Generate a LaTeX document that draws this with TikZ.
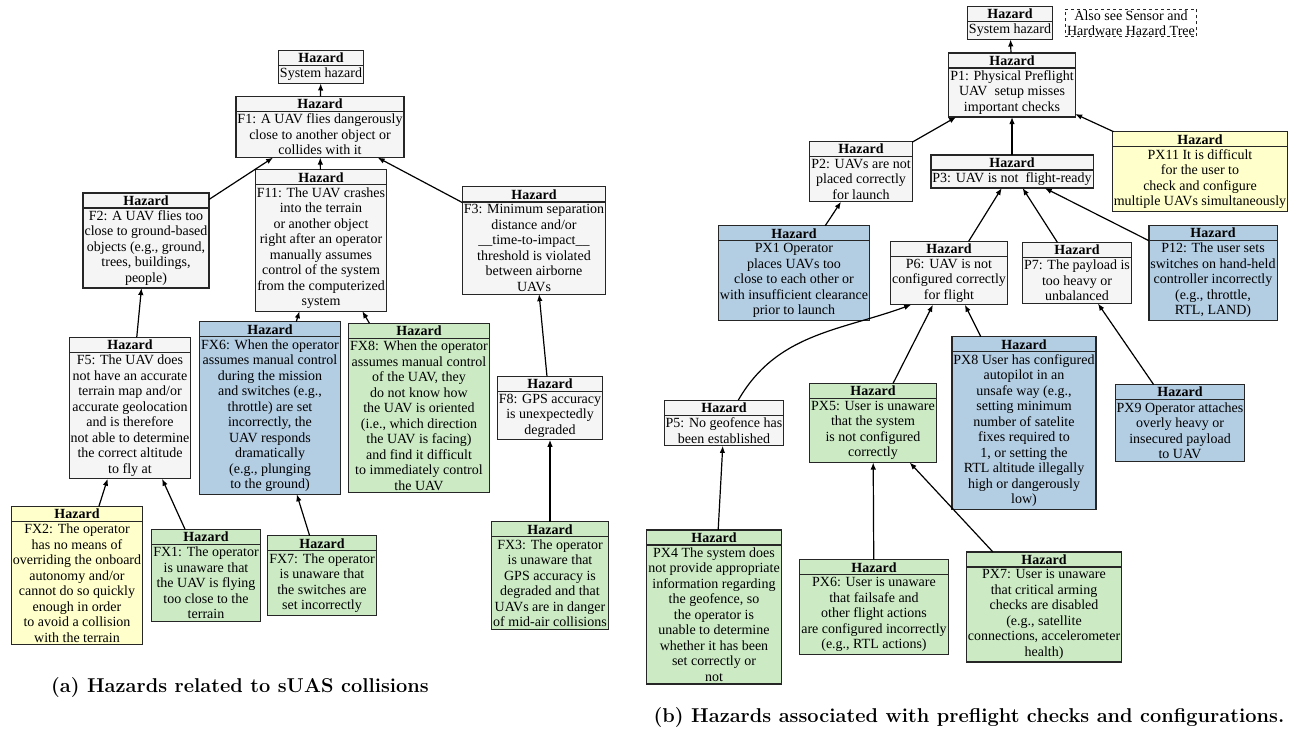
\documentclass[tikz,border=0pt]{standalone}
\usepackage{fontspec}
\newfontfamily\boxfont{Liberation Serif}
\usetikzlibrary{shapes.multipart,arrows.meta}
\definecolor{hzgray}{HTML}{F5F5F5}
\definecolor{hzblue}{HTML}{B3CDE3}
\definecolor{hzgreen}{HTML}{CCEBC5}
\definecolor{hzyellow}{HTML}{FFFFCC}

\begin{document}
\begin{tikzpicture}[x=1pt,y=-1pt,outer sep=0pt,very thick,>={Latex[length=7pt,width=5.5pt]},
hazard/.style={rectangle split,rectangle split parts=2,draw=black!85,inner xsep=1.5pt,inner ysep=2pt,align=center,font=\boxfont\fontsize{14}{15.5}\selectfont},
hazgray/.style={hazard,fill=hzgray},
hazblue/.style={hazard,fill=hzblue},
hazgreen/.style={hazard,fill=hzgreen},
hazyellow/.style={hazard,fill=hzyellow},
caption/.style={font=\bfseries\fontsize{20}{23}\selectfont}]

\useasboundingbox (0,0) rectangle (1294,734);

\draw (321,67) node[hazgray] (sysa) {\textbf{Hazard}\nodepart{two}System hazard};
\draw (320,127) node[hazgray] (f1) {\textbf{Hazard}\nodepart{two}F1: A UAV flies dangerously\\close to another object or\\collides with it};
\draw (146,240.5) node[hazgray] (f2) {\textbf{Hazard}\nodepart{two}F2: A UAV flies too\\close to ground-based\\objects (e.g., ground,\\trees, buildings,\\people)};
\draw (321,240.5) node[hazgray] (f11) {\textbf{Hazard}\nodepart{two}F11: The UAV crashes\\into the terrain\\or another object\\right after an operator\\manually assumes\\control of the system\\from the computerized\\system};
\draw (534,240.5) node[hazgray] (f3) {\textbf{Hazard}\nodepart{two}F3: Minimum separation\\distance and/or\\\_\_time-to-impact\_\_\\threshold is violated\\between airborne\\UAVs};
\draw (130,408) node[hazgray] (f5) {\textbf{Hazard}\nodepart{two}F5: The UAV does\\not have an accurate\\terrain map and/or\\accurate geolocation\\and is therefore\\not able to determine\\the correct altitude\\to fly at};
\draw (270,408) node[hazblue] (fx6) {\textbf{Hazard}\nodepart{two}FX6: When the operator\\assumes manual control\\during the mission\\and switches (e.g.,\\throttle) are set\\incorrectly, the\\UAV responds\\dramatically\\(e.g., plunging\\to the ground)};
\draw (419,408) node[hazgreen] (fx8) {\textbf{Hazard}\nodepart{two}FX8: When the operator\\assumes manual control\\of the UAV, they\\do not know how\\the UAV is oriented\\(i.e., which direction\\the UAV is facing)\\and find it difficult\\to immediately control\\the UAV};
\draw (550,408) node[hazgray] (f8) {\textbf{Hazard}\nodepart{two}F8: GPS accuracy\\is unexpectedly\\degraded};
\draw (77,575.5) node[hazyellow] (fx2) {\textbf{Hazard}\nodepart{two}FX2: The operator\\has no means of\\overriding the onboard\\autonomy and/or\\cannot do so quickly\\enough in order\\to avoid a collision\\with the terrain};
\draw (206,575.5) node[hazgreen] (fx1) {\textbf{Hazard}\nodepart{two}FX1: The operator\\is unaware that\\the UAV is flying\\too close to the\\terrain};
\draw (322,575.5) node[hazgreen] (fx7) {\textbf{Hazard}\nodepart{two}FX7: The operator\\is unaware that\\the switches are\\set incorrectly};
\draw (550,575.5) node[hazgreen] (fx3) {\textbf{Hazard}\nodepart{two}FX3: The operator\\is unaware that\\GPS accuracy is\\degraded and that\\UAVs are in danger\\of mid-air collisions};

\draw[->] (f1) -- (sysa);
\draw[->] (f2) -- (f1);
\draw[->] (f11) -- (f1);
\draw[->] (f3) -- (f1);
\draw[->] (f5) -- (f2);
\draw[->] (fx6) -- (f11);
\draw[->] (fx8) -- (f11);
\draw[->] (f8) -- (f3);
\draw[->] (fx2) -- (f5);
\draw[->] (fx1) -- (f5);
\draw[->] (fx7) -- (fx6);
\draw[->] (fx3) -- (f8);

\draw (1010,23) node[hazgray] (sysb) {\textbf{Hazard}\nodepart{two}System hazard};
\draw (1131,23) node[draw=black!85,dashed,inner xsep=2pt,inner ysep=1pt,align=center,font=\boxfont\fontsize{14}{15.5}\selectfont] (seealso) {Also see Sensor and\\Hardware Hazard Tree};
\draw (1012,85) node[hazgray] (p1) {\textbf{Hazard}\nodepart{two}P1: Physical Preflight\\UAV~~setup misses\\important checks};
\draw (861,171.5) node[hazgray] (p2) {\textbf{Hazard}\nodepart{two}P2: UAVs are not\\placed correctly\\for launch};
\draw (1012,171.5) node[hazgray] (p3) {\textbf{Hazard}\nodepart{two}P3: UAV is not~~flight-ready};
\draw (1200,171.5) node[hazyellow] (px11) {\textbf{Hazard}\nodepart{two}PX11 It is difficult\\for the user to\\check and configure\\multiple UAVs simultaneously};
\draw (794,273) node[hazblue] (px1) {\textbf{Hazard}\nodepart{two}PX1 Operator\\places UAVs too\\close to each other or\\with insufficient clearance\\prior to launch};
\draw (949,273) node[hazgray] (p6) {\textbf{Hazard}\nodepart{two}P6: UAV is not\\configured correctly\\for flight};
\draw (1077,273) node[hazgray] (p7) {\textbf{Hazard}\nodepart{two}P7: The payload is\\too heavy or\\unbalanced};
\draw (1213,273) node[hazblue] (p12) {\textbf{Hazard}\nodepart{two}P12: The user sets\\switches on hand-held\\controller incorrectly\\(e.g., throttle,\\RTL, LAND)};
\draw (724,423) node[hazgray] (p5) {\textbf{Hazard}\nodepart{two}P5: No geofence has\\been established};
\draw (873,423) node[hazgreen] (px5) {\textbf{Hazard}\nodepart{two}PX5: User is unaware\\that the system\\is not configured\\correctly};
\draw (1024,423) node[hazblue] (px8) {\textbf{Hazard}\nodepart{two}PX8 User has configured\\autopilot in an\\unsafe way (e.g.,\\setting minimum\\number of satelite\\fixes required to\\1, or setting the\\RTL altitude illegally\\high or dangerously\\low)};
\draw (1180,423) node[hazblue] (px9) {\textbf{Hazard}\nodepart{two}PX9 Operator attaches\\overly heavy or\\insecured payload\\to UAV};
\draw (714,607) node[hazgreen] (px4) {\textbf{Hazard}\nodepart{two}PX4 The system does\\not provide appropriate\\information regarding\\the geofence, so\\the operator is\\unable to determine\\whether it has been\\set correctly or\\not};
\draw (874,607) node[hazgreen] (px6) {\textbf{Hazard}\nodepart{two}PX6: User is unaware\\that failsafe and\\other flight actions\\are configured incorrectly\\(e.g., RTL actions)};
\draw (1044,607) node[hazgreen] (px7) {\textbf{Hazard}\nodepart{two}PX7: User is unaware\\that critical arming\\checks are disabled\\(e.g., satellite\\connections, accelerometer\\health)};

\draw[->] (p1) -- (sysb);
\draw[->] (p2) -- (p1);
\draw[->] (p3) -- (p1);
\draw[->] (px11) -- (p1);
\draw[->] (px1) -- (p2);
\draw[->] (p6) -- (p3);
\draw[->] (p7) -- (p3);
\draw[->] (p12) -- (p3);
\draw[->] (p5.58) to[out=60,in=200] (p6.220);
\draw[->] (px5) -- (p6);
\draw[->] (px8) -- (p6);
\draw[->] (px9) -- (p7);
\draw[->] (px4) -- (p5);
\draw[->] (px6) -- (px5);
\draw[->] (px7) -- (px5);

\draw (240,688) node[caption] (capa) {(a) Hazards related to sUAS collisions};
\draw (969,718) node[caption] (capb) {(b) Hazards associated with preflight checks and configurations.};

\end{tikzpicture}
\end{document}
